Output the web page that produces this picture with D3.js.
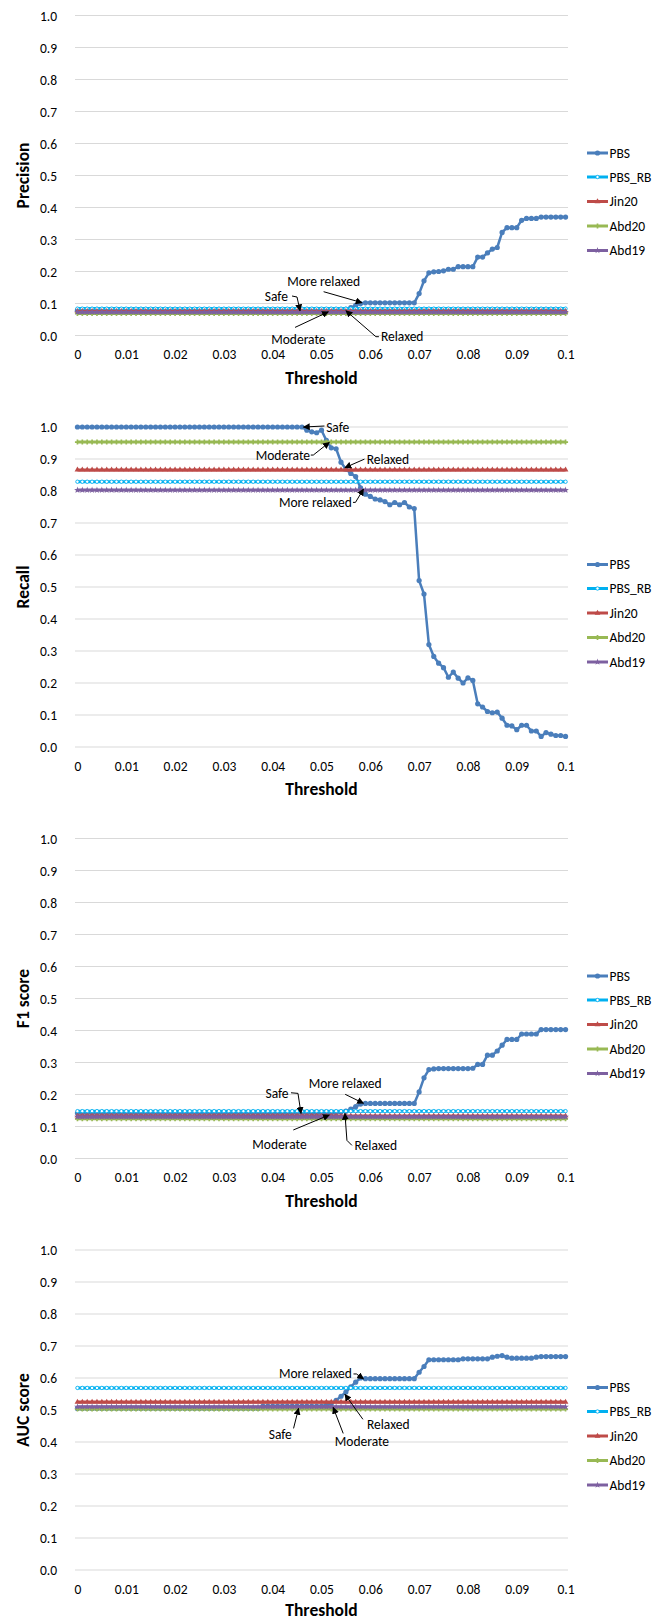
<!DOCTYPE html>
<html><head><meta charset="utf-8">
<script src="https://cdn.jsdelivr.net/npm/d3@7"></script>
<style>body{margin:0;background:#fff}svg{display:block}</style>
</head><body>
<svg id="chart" width="671" height="1621"></svg>
<script>
// ---------------- DATA ----------------
const seriesNames = ["PBS", "PBS_RB", "Jin20", "Abd20", "Abd19"];
const metricTitles = ["Precision", "Recall", "F1 score", "AUC score"];
const xTickLabels = ["0", "0.01", "0.02", "0.03", "0.04", "0.05", "0.06", "0.07", "0.08", "0.09", "0.1"];
const yTickLabels = ["0.0", "0.1", "0.2", "0.3", "0.4", "0.5", "0.6", "0.7", "0.8", "0.9", "1.0"];
const annotationLabels = ["Safe", "Moderate", "Relaxed", "More relaxed"];

// PBS values at thresholds 0, 0.001, ..., 0.1 (101 points)
const pbsPrecision = [
  0.079,0.079,0.079,0.079,0.079,0.079,0.079,0.079,0.079,0.079,
  0.079,0.079,0.079,0.079,0.079,0.079,0.079,0.079,0.079,0.079,
  0.079,0.079,0.079,0.079,0.079,0.079,0.079,0.079,0.079,0.079,
  0.079,0.079,0.079,0.079,0.079,0.079,0.079,0.079,0.079,0.079,
  0.079,0.079,0.079,0.079,0.079,0.079,0.079,0.079,0.079,0.079,
  0.079,0.079,0.079,0.079,0.079,0.082,0.087,0.094,0.100,0.102,
  0.102,0.102,0.102,0.102,0.102,0.102,0.102,0.102,0.102,0.102,
  0.131,0.171,0.196,0.199,0.200,0.202,0.207,0.207,0.215,0.215,
  0.215,0.215,0.245,0.245,0.258,0.270,0.275,0.322,0.337,0.337,
  0.337,0.360,0.366,0.366,0.366,0.370,0.370,0.370,0.370,0.370,
  0.370];
const pbsRecall = [
  1.000,1.000,1.000,1.000,1.000,1.000,1.000,1.000,1.000,1.000,
  1.000,1.000,1.000,1.000,1.000,1.000,1.000,1.000,1.000,1.000,
  1.000,1.000,1.000,1.000,1.000,1.000,1.000,1.000,1.000,1.000,
  1.000,1.000,1.000,1.000,1.000,1.000,1.000,1.000,1.000,1.000,
  1.000,1.000,1.000,1.000,1.000,1.000,1.000,0.990,0.985,0.982,
  0.990,0.958,0.935,0.932,0.890,0.868,0.855,0.845,0.810,0.790,
  0.783,0.775,0.772,0.767,0.757,0.764,0.757,0.764,0.750,0.745,
  0.520,0.478,0.320,0.283,0.262,0.248,0.218,0.234,0.215,0.200,
  0.216,0.208,0.135,0.125,0.111,0.107,0.109,0.090,0.068,0.066,
  0.054,0.068,0.068,0.050,0.050,0.033,0.045,0.040,0.036,0.036,
  0.033];
const pbsF1 = [
  0.142,0.142,0.142,0.142,0.142,0.142,0.142,0.142,0.142,0.142,
  0.142,0.142,0.142,0.142,0.142,0.142,0.142,0.142,0.142,0.142,
  0.142,0.142,0.142,0.142,0.142,0.142,0.142,0.142,0.142,0.142,
  0.142,0.142,0.142,0.142,0.142,0.142,0.142,0.142,0.142,0.142,
  0.142,0.142,0.142,0.142,0.142,0.142,0.142,0.142,0.142,0.142,
  0.142,0.142,0.142,0.143,0.145,0.148,0.154,0.162,0.170,0.172,
  0.172,0.172,0.172,0.172,0.172,0.172,0.172,0.172,0.172,0.172,
  0.208,0.252,0.278,0.280,0.281,0.281,0.281,0.281,0.281,0.281,
  0.281,0.282,0.294,0.294,0.323,0.323,0.336,0.354,0.372,0.372,
  0.372,0.389,0.389,0.389,0.389,0.403,0.403,0.403,0.403,0.403,
  0.403];
const pbsAUC = [
  0.505,0.505,0.505,0.505,0.505,0.505,0.505,0.505,0.505,0.505,
  0.505,0.505,0.505,0.505,0.505,0.505,0.505,0.505,0.505,0.505,
  0.505,0.505,0.505,0.505,0.505,0.505,0.505,0.505,0.505,0.505,
  0.505,0.505,0.505,0.505,0.505,0.505,0.505,0.505,0.512,0.512,
  0.512,0.512,0.512,0.512,0.512,0.512,0.512,0.512,0.512,0.512,
  0.512,0.515,0.520,0.530,0.543,0.556,0.572,0.587,0.600,0.598,
  0.598,0.598,0.598,0.598,0.598,0.598,0.598,0.598,0.598,0.598,
  0.618,0.636,0.657,0.657,0.657,0.657,0.657,0.657,0.657,0.660,
  0.660,0.660,0.660,0.660,0.660,0.665,0.668,0.670,0.665,0.662,
  0.662,0.662,0.662,0.662,0.665,0.667,0.667,0.667,0.667,0.667,
  0.667];
// constant baselines, one level per metric [precision, recall, F1, AUC]
const pbsRbLevels = [0.084, 0.829, 0.148, 0.569];
const jin20Levels = [0.076, 0.866, 0.133, 0.525];
const abd20Levels = [0.069, 0.953, 0.124, 0.503];
const abd19Levels = [0.073, 0.803, 0.130, 0.510];

// ---------------- LAYOUT / STYLE ----------------
const colors = ["#4a7ebb", "#00b0f0", "#be4b48", "#98b954", "#7d60a0"];
const font = "Carlito, Lato, 'Liberation Sans', sans-serif";
const panelStep = 411.5, plotTop = 15.5, plotBottom = 335.5;
const plotLeft = 75, plotRight = 568;

const pbsByMetric = [pbsPrecision, pbsRecall, pbsF1, pbsAUC];
const thresholds = d3.range(pbsPrecision.length);

// annotation layout: tip in data coords [index, value]; text / leader offsets in px from tip
const annotationLayout = [
  [ {l:0, tip:[45.6,0.0775], t:[-23.7,-14.7], a:"middle", p:[[-8,-14.7],[-3,-13.7]]},
    {l:1, tip:[51.4,0.074], t:[-30,27.6], a:"middle", p:[[-33.3,15.6]]},
    {l:2, tip:[55,0.0775], t:[35,26], a:"start", p:[[33,26],[30,26]]},
    {l:3, tip:[58.3,0.1025], t:[-38.4,-21], a:"middle", p:[[-38.4,-11]]} ],
  [ {l:0, tip:[46.3,1.0], t:[22.7,0], a:"start", p:[[21,-1]]},
    {l:1, tip:[51.6,0.952], t:[-19.3,12.7], a:"end", p:[[-18.5,12.7],[-16,12.7]]},
    {l:2, tip:[54.8,0.873], t:[21.7,-8.7], a:"start", p:[[19.5,-8.5]]},
    {l:3, tip:[58.6,0.806], t:[-11.6,13.3], a:"end", p:[[-10.5,13.3],[-8,13.3]]} ],
  [ {l:0, tip:[45.8,0.141], t:[-24,-20.6], a:"middle", p:[[-10,-20.6],[-3,-20]]},
    {l:1, tip:[51.6,0.136], t:[-49.8,29.5], a:"middle", p:[[-36,15]]},
    {l:2, tip:[54.8,0.141], t:[9.6,32.3], a:"start", p:[[7,32],[2,27]]},
    {l:3, tip:[58.6,0.1725], t:[-18.3,-20], a:"middle", p:[[-18.3,-9]]} ],
  [ {l:0, tip:[45.3,0.505], t:[-18.3,26], a:"middle", p:[[-5,20]]},
    {l:1, tip:[52.4,0.508], t:[28.7,33.7], a:"middle", p:[[10,26]]},
    {l:2, tip:[54.8,0.549], t:[22,29.5], a:"start", p:[[18,25]]},
    {l:3, tip:[58.6,0.597], t:[-11.6,-5.7], a:"end", p:[[-10,-5],[-7,-5]]} ]
];

const svg = d3.select("#chart");
const defs = svg.append("defs");
defs.append("marker").attr("id","arrow").attr("viewBox","0 0 10 10")
  .attr("refX",9).attr("refY",5).attr("markerWidth",7).attr("markerHeight",7)
  .attr("orient","auto-start-reverse").attr("markerUnits","userSpaceOnUse")
  .append("path").attr("d","M0,0 L10,5 L0,10 z").attr("fill","#000");

const x = d3.scalePoint().domain(thresholds).range([plotLeft, plotRight]).padding(0.5);
const xCont = d3.scaleLinear().domain([0, thresholds.length - 1]).range([x(0), x(thresholds.length - 1)]);

const triangle = d3.symbol().type(d3.symbolTriangle).size(14);
const cross = d3.symbol().type(d3.symbolCross).size(14);
const star = d3.symbol().type(d3.symbolStar).size(14);

function drawMarker(g, k, px, py) {
  if (k === 0) {
    g.append("circle").attr("cx",px).attr("cy",py).attr("r",2.6).attr("fill",colors[0]);
  } else if (k === 1) {
    g.append("circle").attr("cx",px).attr("cy",py).attr("r",1.7).attr("fill","#fff")
      .attr("stroke",colors[1]).attr("stroke-width",0.9);
  } else if (k === 2) {
    g.append("path").attr("d",triangle()).attr("transform",`translate(${px},${py})`).attr("fill",colors[2]);
  } else if (k === 3) {
    g.append("path").attr("d",cross()).attr("transform",`translate(${px},${py})`).attr("fill",colors[3]);
  } else {
    g.append("path").attr("d",star()).attr("transform",`translate(${px},${py})`).attr("fill",colors[4]);
  }
}

metricTitles.forEach((title, m) => {
  const oy = m * panelStep;
  const g = svg.append("g");
  const y = d3.scaleLinear().domain([0, 1]).range([plotBottom + oy, plotTop + oy]);
  const yVals = yTickLabels.map(Number);

  // gridlines
  g.append("g").selectAll("line").data(yVals).join("line")
    .attr("x1", plotLeft).attr("x2", plotRight)
    .attr("y1", d => y(d)).attr("y2", d => y(d))
    .attr("stroke", "#d9d9d9").attr("stroke-width", 1.2);

  // y axis labels
  const yAxis = d3.axisLeft(y).tickValues(yVals).tickFormat((d, i) => yTickLabels[i]).tickSize(0).tickPadding(0);
  const ya = g.append("g").attr("transform", `translate(57,0)`).call(yAxis);
  ya.select(".domain").remove();
  ya.selectAll("text").attr("font-family", font).attr("font-size", 13.5).attr("fill", "#000").attr("dy","0.35em");

  // x axis labels
  const xAxis = d3.axisBottom(x).tickValues(thresholds.filter(i => i % 10 === 0))
    .tickFormat(i => xTickLabels[i / 10]).tickSize(0).tickPadding(0);
  const xa = g.append("g").attr("transform", `translate(0,${plotBottom + oy + 14})`).call(xAxis);
  xa.select(".domain").remove();
  xa.selectAll("text").attr("font-family", font).attr("font-size", 13.5).attr("fill", "#000").attr("dy","0.71em");

  // axis titles
  g.append("text").attr("x", (plotLeft + plotRight) / 2).attr("y", Math.min(plotBottom + oy + 48, 1615.5))
    .attr("text-anchor", "middle").attr("font-family", font).attr("font-weight", "bold")
    .attr("font-size", 17.5).text("Threshold");
  g.append("text").attr("transform", `translate(28.5,${(plotTop + plotBottom) / 2 + oy}) rotate(-90)`)
    .attr("text-anchor", "middle").attr("font-family", font).attr("font-weight", "bold")
    .attr("font-size", 17.5).text(title);

  // series
  const levels = [null, pbsRbLevels[m], jin20Levels[m], abd20Levels[m], abd19Levels[m]];
  const seriesData = seriesNames.map((name, k) =>
    k === 0 ? pbsByMetric[m] : thresholds.map(() => levels[k]));
  const line = d3.line().x((d, i) => x(i)).y(d => y(d));
  seriesData.forEach((vals, k) => {
    const sg = g.append("g");
    sg.append("path").attr("d", line(vals)).attr("fill", "none")
      .attr("stroke", colors[k]).attr("stroke-width", k === 0 ? 2.5 : 3).attr("stroke-linejoin","round");
    vals.forEach((v, i) => drawMarker(sg, k, x(i), y(v)));
  });

  // legend
  const legendRows = [153, 177, 201.5, 226, 250.5];
  seriesNames.forEach((name, k) => {
    const ly = legendRows[k] + oy;
    const lg = g.append("g");
    lg.append("line").attr("x1", 587).attr("x2", 608).attr("y1", ly).attr("y2", ly)
      .attr("stroke", colors[k]).attr("stroke-width", 3);
    drawMarker(lg, k, 597.5, ly);
    lg.append("text").attr("x", 609.5).attr("y", ly).attr("dy", "0.35em")
      .attr("font-family", font).attr("font-size", 13.5).text(name);
  });

  // annotations
  annotationLayout[m].forEach(a => {
    const tx = xCont(a.tip[0]), ty = y(a.tip[1]);
    const pts = a.p.map(p => [tx + p[0], ty + p[1]]).concat([[tx, ty]]);
    g.append("path").attr("d", d3.line()(pts)).attr("fill", "none")
      .attr("stroke", "#000").attr("stroke-width", 1).attr("marker-end", "url(#arrow)");
    g.append("text").attr("x", tx + a.t[0]).attr("y", ty + a.t[1]).attr("dy", "0.35em")
      .attr("text-anchor", a.a).attr("font-family", font).attr("font-size", 13.5)
      .text(annotationLabels[a.l]);
  });
});
</script>
</body></html>
